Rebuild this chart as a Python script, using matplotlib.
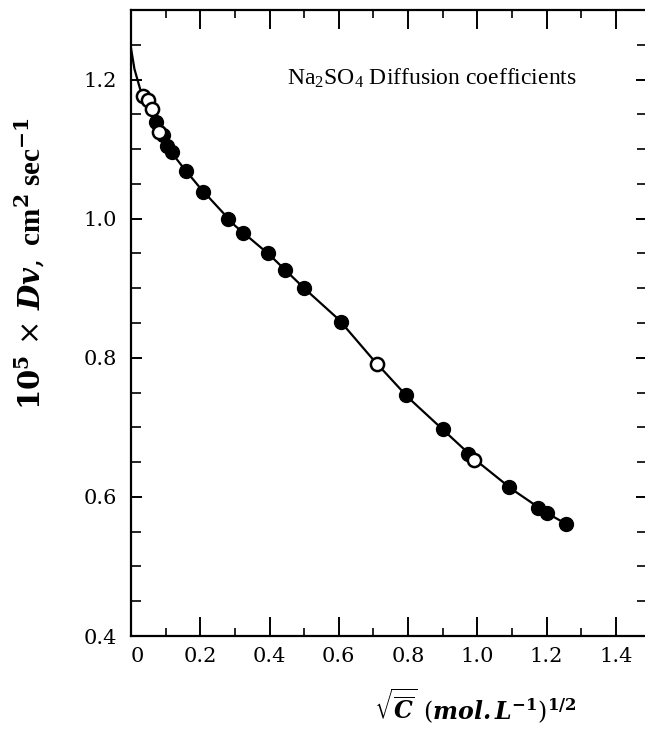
import matplotlib
matplotlib.use("Agg")
import matplotlib.pyplot as plt
from matplotlib.ticker import MultipleLocator, FixedLocator
import numpy as np

# --- data ---
open_x = [0.035, 0.050, 0.061, 0.082, 0.711, 0.991]
open_y = [1.176, 1.171, 1.157, 1.124, 0.791, 0.653]

filled_x = [0.073, 0.093, 0.105, 0.119, 0.160, 0.209, 0.281, 0.324, 0.396, 0.445,
            0.500, 0.607, 0.794, 0.901, 0.974, 1.092, 1.176, 1.202, 1.257]
filled_y = [1.139, 1.121, 1.104, 1.096, 1.069, 1.039, 1.000, 0.979, 0.951, 0.926,
            0.900, 0.851, 0.746, 0.697, 0.661, 0.614, 0.584, 0.577, 0.561]

curve_x = [0.0, 0.01, 0.03, 0.06, 0.08, 0.10, 0.15, 0.20, 0.30, 0.40, 0.50, 0.60,
           0.70, 0.80, 0.90, 1.00, 1.10, 1.20, 1.257]
curve_y = [1.245, 1.215, 1.180, 1.152, 1.128, 1.106, 1.074, 1.044, 0.990, 0.948,
           0.900, 0.855, 0.797, 0.743, 0.697, 0.651, 0.611, 0.577, 0.561]

x_ticks = [0.0, 0.2, 0.4, 0.6, 0.8, 1.0, 1.2, 1.4]
x_ticklabels = ["0", "0.2", "0.4", "0.6", "0.8", "1.0", "1.2", "1.4"]
y_ticks = [0.4, 0.6, 0.8, 1.0, 1.2]
y_ticklabels = ["0.4", "0.6", "0.8", "1.0", "1.2"]

plt.rcParams["mathtext.fontset"] = "dejavuserif"
plt.rcParams["font.family"] = ["DejaVu Serif"]

fig = plt.figure(figsize=(6.45, 7.31), dpi=100)
L, B = 131 / 645, 1 - 636 / 731
W, H = 516 / 645, 626 / 731
ax = fig.add_axes([L, B, W, H])

ax.plot(curve_x, curve_y, color="black", lw=1.6, zorder=2)
ax.plot(filled_x, filled_y, "o", ms=10, mfc="black", mec="black", zorder=3)
ax.plot(open_x, open_y, "o", ms=9.5, mfc="white", mec="black", mew=1.8, zorder=4)

ax.set_xlim(0.0, 1.49)
ax.set_ylim(0.4, 1.3)

ax.spines["right"].set_visible(False)
for s in ["left", "top", "bottom"]:
    ax.spines[s].set_linewidth(1.6)

ax.xaxis.set_major_locator(FixedLocator(x_ticks))
ax.set_xticklabels(x_ticklabels)
ax.xaxis.set_minor_locator(MultipleLocator(0.1))
ax.yaxis.set_major_locator(FixedLocator(y_ticks))
ax.set_yticklabels(y_ticklabels)
ax.yaxis.set_minor_locator(MultipleLocator(0.05))

ax.tick_params(axis="x", which="major", direction="in", length=14, width=1.4,
               top=True, bottom=True, labelsize=15, pad=8)
ax.tick_params(axis="x", which="minor", direction="in", length=6, width=1.2,
               top=True, bottom=True)
ax.tick_params(axis="y", which="major", direction="in", length=8, width=1.4,
               left=True, right=True, labelsize=15, pad=10)
ax.tick_params(axis="y", which="minor", direction="in", length=7, width=1.2,
               left=True, right=True)
ax.get_xticklabels()[0].set_horizontalalignment("left")

fig.text(287 / 645, 1 - 78 / 731,
         r"Na$_\mathregular{2}$SO$_\mathregular{4}$ Diffusion coefficients",
         fontsize=17, family=["Liberation Serif"], ha="left", va="center")

fig.text(30 / 645, 1 - 263 / 731,
         r"$\mathbf{10^5}\,\times\,\mathbfit{Dv},$ cm$^\mathbf{2}$ sec$^\mathbf{-1}$",
         rotation=90, fontsize=21, fontweight="bold", ha="center", va="center",
         family=["Liberation Serif"])

fig.text(475 / 645, 1 - 706 / 731,
         r"$\sqrt{\overline{\mathbfit{C}}}\ \left(\mathbfit{mol.L}^{\mathbf{-1}}\right)^{\mathbf{1/2}}$",
         fontsize=17, ha="center", va="center")

fig.savefig("out.png", dpi=100)
